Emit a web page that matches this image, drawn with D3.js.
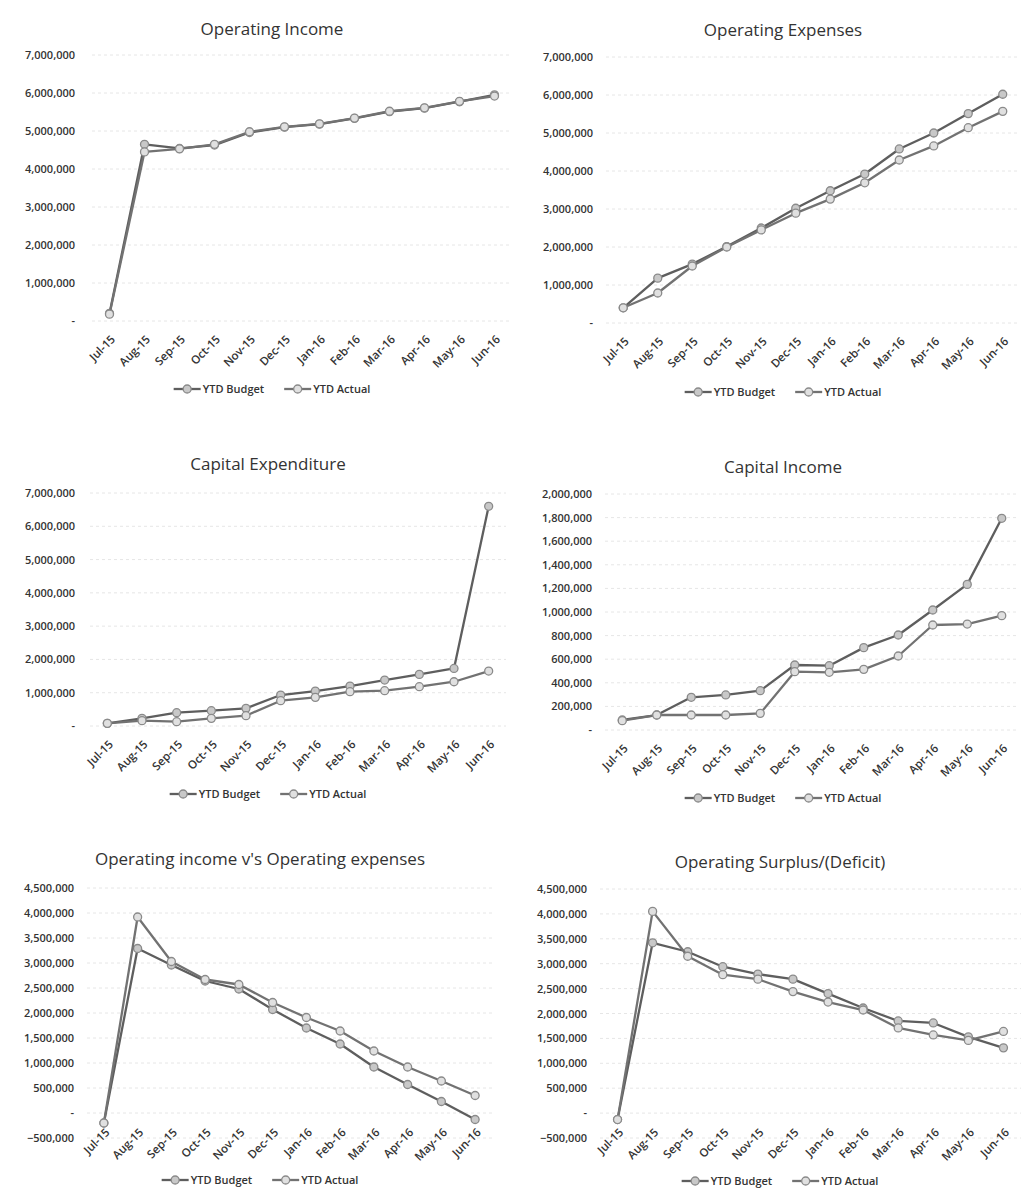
<!DOCTYPE html>
<html>
<head>
<meta charset="utf-8">
<script src="https://cdn.jsdelivr.net/npm/d3@7"></script>
<style>
  html, body { margin: 0; padding: 0; background: #fff; }
  svg { display: block; }
  text { font-family: "Open Sans", "Liberation Sans", sans-serif; fill: #333; }
</style>
</head>
<body>
<svg id="chart" width="1030" height="1202"></svg>
<script>
// ---------- DATA ----------
const months = ["Jul-15","Aug-15","Sep-15","Oct-15","Nov-15","Dec-15","Jan-16","Feb-16","Mar-16","Apr-16","May-16","Jun-16"];
const seriesNames = ["YTD Budget", "YTD Actual"];

const opIncomeBudget = [200000, 4650000, 4540000, 4630000, 4960000, 5100000, 5180000, 5330000, 5510000, 5600000, 5770000, 5950000];
const opIncomeActual = [180000, 4450000, 4530000, 4650000, 4980000, 5110000, 5190000, 5340000, 5520000, 5610000, 5780000, 5920000];

const opExpBudget = [400000, 1180000, 1550000, 2010000, 2500000, 3020000, 3480000, 3920000, 4580000, 5000000, 5510000, 6020000];
const opExpActual = [400000, 790000, 1500000, 2000000, 2450000, 2890000, 3260000, 3690000, 4290000, 4660000, 5140000, 5570000];

const capExBudget = [80000, 230000, 400000, 460000, 530000, 930000, 1050000, 1200000, 1380000, 1550000, 1730000, 6600000];
const capExActual = [80000, 160000, 130000, 230000, 310000, 760000, 860000, 1030000, 1060000, 1180000, 1330000, 1650000];

const capIncBudget = [85000, 127000, 277000, 297000, 333000, 551000, 545000, 698000, 805000, 1017000, 1234000, 1794000];
const capIncActual = [79000, 127000, 127000, 127000, 141000, 494000, 489000, 514000, 627000, 890000, 898000, 969000];

const incVsExpBudget = [-200000, 3290000, 2960000, 2640000, 2480000, 2070000, 1700000, 1380000, 920000, 570000, 230000, -130000];
const incVsExpActual = [-200000, 3920000, 3030000, 2670000, 2570000, 2210000, 1910000, 1640000, 1240000, 920000, 640000, 350000];

const surplusBudget = [-130000, 3420000, 3240000, 2940000, 2790000, 2690000, 2400000, 2110000, 1850000, 1810000, 1530000, 1310000];
const surplusActual = [-130000, 4050000, 3150000, 2780000, 2690000, 2440000, 2230000, 2070000, 1710000, 1570000, 1460000, 1640000];

const ticks0to7M = [0, 1000000, 2000000, 3000000, 4000000, 5000000, 6000000, 7000000];
const ticks0to2M = [0, 200000, 400000, 600000, 800000, 1000000, 1200000, 1400000, 1600000, 1800000, 2000000];
const ticksNeg = [-500000, 0, 500000, 1000000, 1500000, 2000000, 2500000, 3000000, 3500000, 4000000, 4500000];

// ---------- LAYOUT ----------
const charts = [
  { title: "Operating Income", budget: opIncomeBudget, actual: opIncomeActual, ticks: ticks0to7M,
    x0: 92, x1: 512, yTop: 55, yBot: 321, labelRight: 75, titleY: 35, legendY: 389, cx: 272, xLabelDy: 11 },
  { title: "Operating Expenses", budget: opExpBudget, actual: opExpActual, ticks: ticks0to7M,
    x0: 606, x1: 1020, yTop: 57, yBot: 323, labelRight: 593, titleY: 36, legendY: 392, cx: 783, xLabelDy: 11 },
  { title: "Capital Expenditure", budget: capExBudget, actual: capExActual, ticks: ticks0to7M,
    x0: 90, x1: 506, yTop: 493, yBot: 726, labelRight: 75, titleY: 470, legendY: 794, cx: 268, xLabelDy: 11 },
  { title: "Capital Income", budget: capIncBudget, actual: capIncActual, ticks: ticks0to2M,
    x0: 605, x1: 1019, yTop: 494, yBot: 730, labelRight: 592, titleY: 473, legendY: 798, cx: 783, xLabelDy: 11 },
  { title: "Operating income v's Operating expenses", budget: incVsExpBudget, actual: incVsExpActual, ticks: ticksNeg,
    x0: 87, x1: 492, yTop: 888, yBot: 1138, labelRight: 74, titleY: 865, legendY: 1180, cx: 260, xLabelDy: -13 },
  { title: "Operating Surplus/(Deficit)", budget: surplusBudget, actual: surplusActual, ticks: ticksNeg,
    x0: 600, x1: 1021, yTop: 889, yBot: 1138, labelRight: 587, titleY: 868, legendY: 1181, cx: 780, xLabelDy: -13 }
];

const svg = d3.select("#chart");
const fmt = v => v === 0 ? "-" : d3.format(",")(v);
const lineColor = ["#5e5e5e", "#727272"];
const markerFill = ["#c8c8c8", "#e0e0e0"];

charts.forEach(c => {
  const g = svg.append("g");
  const x = d3.scalePoint().domain(months).range([c.x0, c.x1]).padding(0.5);
  const y = d3.scaleLinear().domain([c.ticks[0], c.ticks[c.ticks.length - 1]]).range([c.yBot, c.yTop]);

  // title
  g.append("text").attr("x", c.cx).attr("y", c.titleY).attr("text-anchor", "middle")
    .style("font-size", "17px").text(c.title);

  // gridlines
  g.append("g").selectAll("line").data(c.ticks).join("line")
    .attr("x1", c.x0).attr("x2", c.x1)
    .attr("y1", d => y(d)).attr("y2", d => y(d))
    .attr("stroke", "#e6e6e6").attr("stroke-width", 1).attr("stroke-dasharray", "3,3");

  // y axis
  const ya = g.append("g").attr("transform", `translate(${c.labelRight},0)`)
    .call(d3.axisLeft(y).tickValues(c.ticks).tickFormat(fmt).tickSize(0).tickPadding(0));
  ya.select(".domain").remove();
  ya.selectAll("text").style("font-size", "11px").style("font-weight", "600").attr("fill", "#333");

  // x axis
  const xa = g.append("g").attr("transform", `translate(0,${c.yBot})`)
    .call(d3.axisBottom(x).tickSize(0).tickPadding(0));
  xa.select(".domain").remove();
  xa.selectAll("text")
    .style("font-size", "11.5px").style("font-weight", "600").attr("fill", "#333")
    .attr("text-anchor", "end")
    .attr("dy", null).attr("y", null)
    .attr("transform", `translate(6,${c.xLabelDy + 8}) rotate(-45)`);

  // lines and markers
  [c.budget, c.actual].forEach((vals, i) => {
    const line = d3.line().x((d, j) => x(months[j])).y(d => y(d));
    g.append("path").datum(vals).attr("d", line)
      .attr("fill", "none").attr("stroke", lineColor[i]).attr("stroke-width", 2.3)
      .attr("stroke-linejoin", "round");
    g.append("g").selectAll("circle").data(vals).join("circle")
      .attr("cx", (d, j) => x(months[j])).attr("cy", d => y(d)).attr("r", 4)
      .attr("fill", markerFill[i]).attr("stroke", "#8a8a8a").attr("stroke-width", 1.3);
  });

  // legend
  const lg = g.append("g");
  let cursor = 0;
  seriesNames.forEach((name, i) => {
    const it = lg.append("g").attr("transform", `translate(${cursor},0)`);
    it.append("line").attr("x1", 0).attr("x2", 27).attr("y1", 0).attr("y2", 0)
      .attr("stroke", lineColor[i]).attr("stroke-width", 2.3);
    it.append("circle").attr("cx", 13.5).attr("cy", 0).attr("r", 4)
      .attr("fill", markerFill[i]).attr("stroke", "#8a8a8a").attr("stroke-width", 1.3);
    const t = it.append("text").attr("x", 29).attr("y", 0).attr("dy", "0.35em")
      .style("font-size", "11px").style("font-weight", "600").text(name);
    const w = 29 + t.node().getComputedTextLength();
    cursor += w + 20;
  });
  const total = cursor - 20;
  lg.attr("transform", `translate(${c.cx - total / 2},${c.legendY})`);
});
</script>
</body>
</html>
